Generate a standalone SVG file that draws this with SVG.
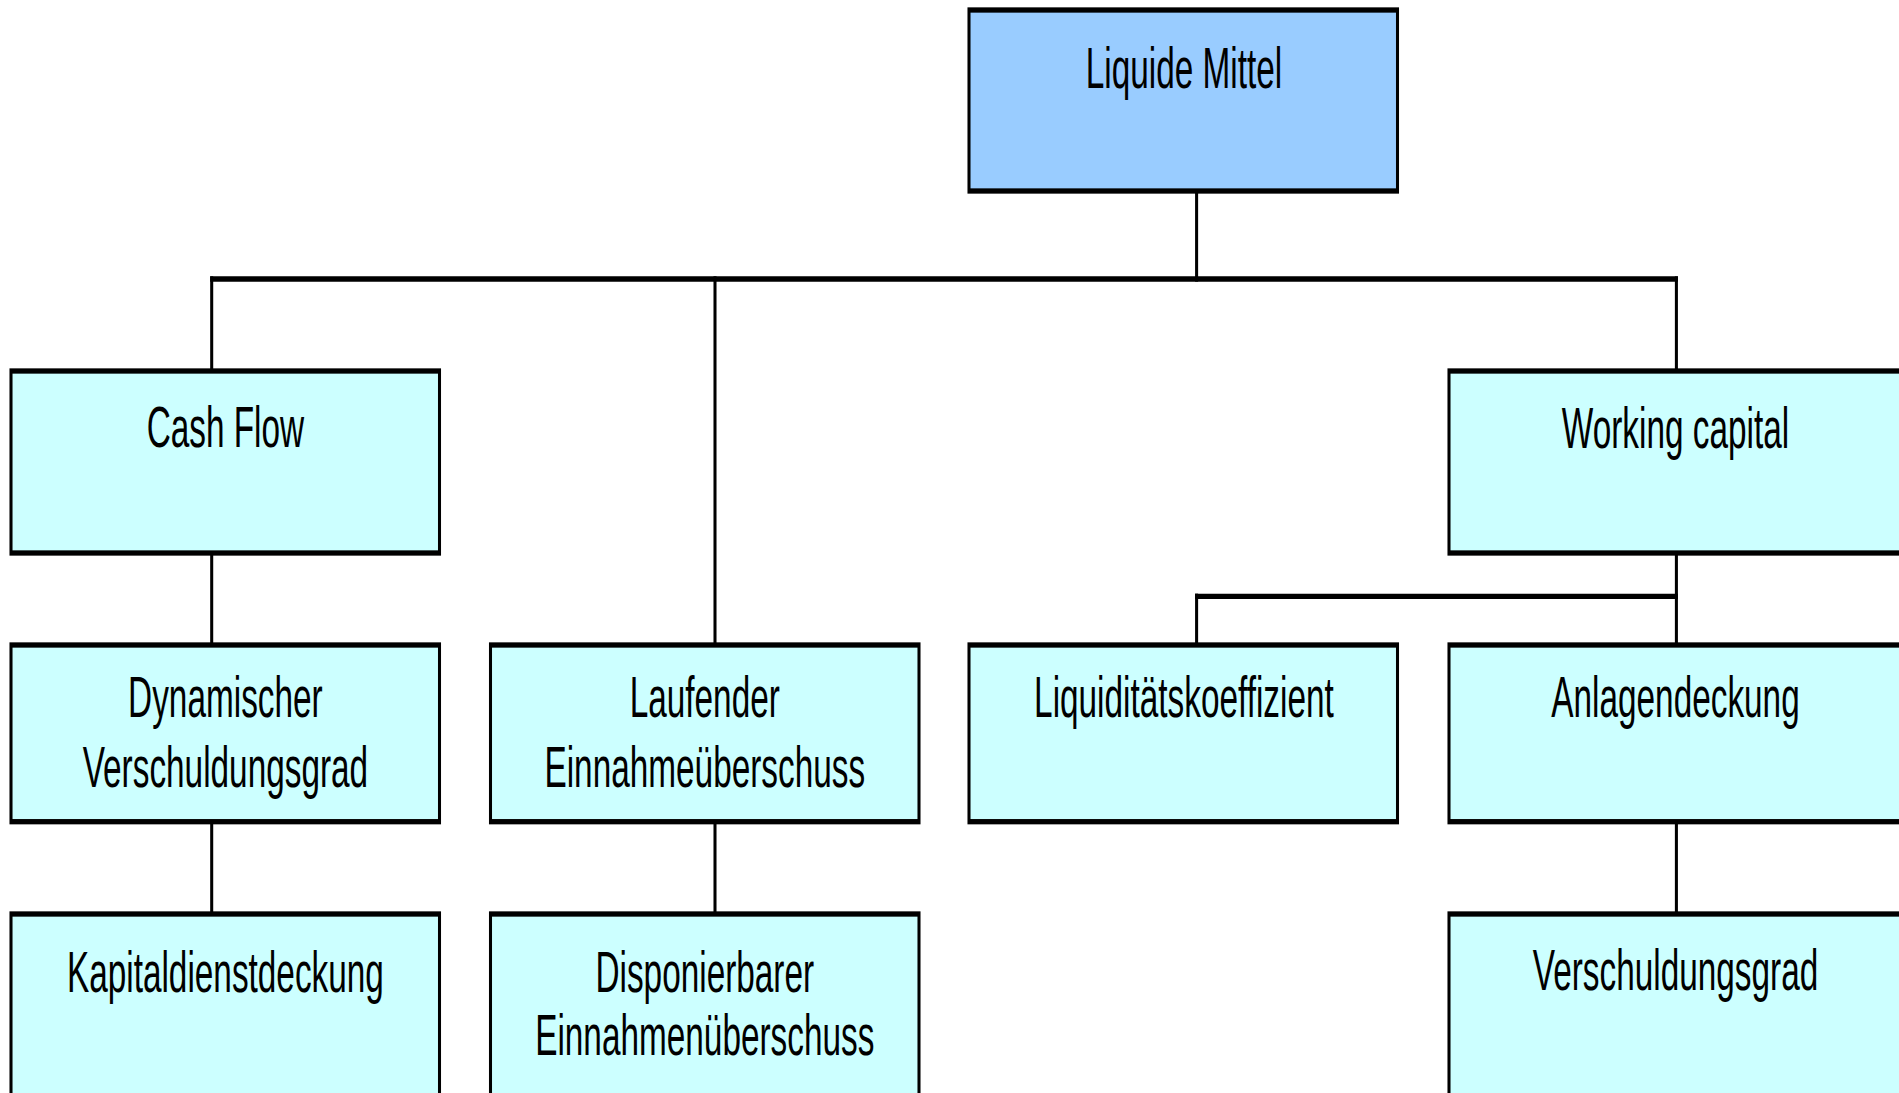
<svg xmlns="http://www.w3.org/2000/svg" width="1899" height="1093" viewBox="0 0 1899 1093">
<style>
.box{fill:#CCFFFF;stroke:#000;stroke-width:5.3}
.root{fill:#99CCFF;stroke:#000;stroke-width:5.3}
.con{fill:none;stroke:#000;stroke-width:5.3;stroke-linecap:square}
text{font-family:"Liberation Sans",Arial,sans-serif;font-size:58px;fill:#000;text-anchor:middle}
</style>
<rect x="0" y="0" width="1899" height="1093" fill="#fff"/>
<g transform="scale(0.575,1)">
<g id="connectors">
<path class="con" d="M2081.04,191 V279"/>
<path class="con" d="M368.17,279 H2915.48"/>
<path class="con" d="M368.17,279 V371"/>
<path class="con" d="M1243.48,279 V645"/>
<path class="con" d="M2915.48,279 V371"/>
<path class="con" d="M368.17,553 V645"/>
<path class="con" d="M368.17,821.7 V914"/>
<path class="con" d="M1243.48,821.7 V914"/>
<path class="con" d="M2915.48,553 V645"/>
<path class="con" d="M2081.04,596.3 H2915.48"/>
<path class="con" d="M2081.04,596.3 V645"/>
<path class="con" d="M2915.48,821.7 V914"/>
</g>
<g id="liquide-mittel">
<rect class="root" x="1685.22" y="10" width="745.22" height="181"/>
<text x="2059" y="88">Liquide Mittel</text>
</g>
<g id="cash-flow">
<rect class="box" x="19.13" y="371" width="745.22" height="182"/>
<text x="392" y="447.5">Cash Flow</text>
</g>
<g id="working-capital">
<rect class="box" x="2520" y="371" width="791.3" height="182"/>
<text x="2913.9" y="448">Working capital</text>
</g>
<g id="dynamischer-verschuldungsgrad">
<rect class="box" x="19.13" y="645" width="745.22" height="176.7"/>
<text x="392" y="716.7">Dynamischer</text>
<text x="392" y="786.7">Verschuldungsgrad</text>
</g>
<g id="laufender-einnahmeueberschuss">
<rect class="box" x="853.04" y="645" width="745.22" height="176.7"/>
<text x="1225.7" y="716.7">Laufender</text>
<text x="1225.7" y="786.7">Einnahmeüberschuss</text>
</g>
<g id="liquiditaetskoeffizient">
<rect class="box" x="1685.22" y="645" width="745.22" height="176.7"/>
<text x="2059" y="716.7">Liquiditätskoeffizient</text>
</g>
<g id="anlagendeckung">
<rect class="box" x="2520" y="645" width="791.3" height="176.7"/>
<text x="2913.9" y="716.7">Anlagendeckung</text>
</g>
<g id="kapitaldienstdeckung">
<rect class="box" x="19.13" y="914" width="745.22" height="200"/>
<text x="392" y="991.7">Kapitaldienstdeckung</text>
</g>
<g id="disponierbarer-einnahmenueberschuss">
<rect class="box" x="853.04" y="914" width="745.22" height="200"/>
<text x="1225.7" y="991.7">Disponierbarer</text>
<text x="1225.7" y="1055">Einnahmenüberschuss</text>
</g>
<g id="verschuldungsgrad">
<rect class="box" x="2520" y="914" width="791.3" height="200"/>
<text x="2913.9" y="990">Verschuldungsgrad</text>
</g>
</g>
</svg>
